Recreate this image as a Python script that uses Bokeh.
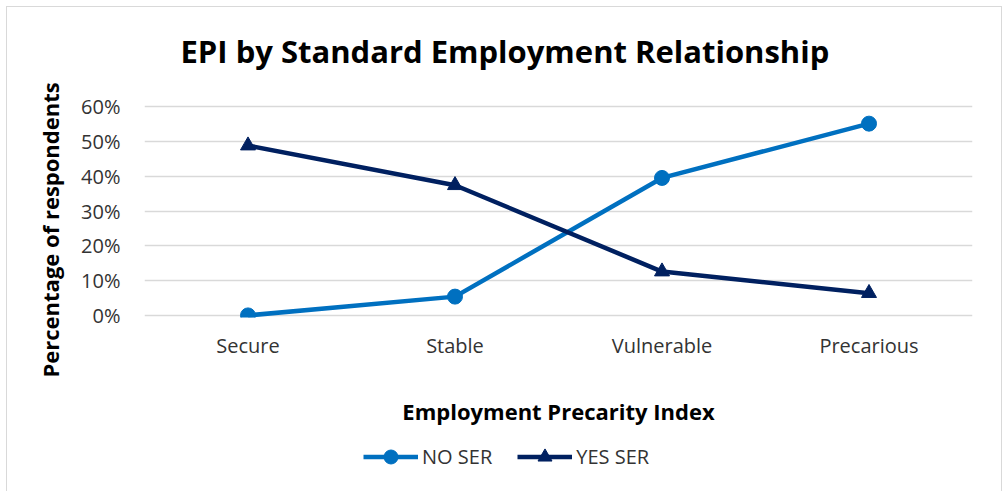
from bokeh.plotting import figure
from bokeh.layouts import column
from bokeh.models import (FactorRange, Range1d, Title, Legend, LegendItem,
                          NumeralTickFormatter, FixedTicker, ColumnDataSource)
from bokeh.embed import file_html
from bokeh.resources import INLINE

categories = ["Secure", "Stable", "Vulnerable", "Precarious"]
no_ser = [0.0, 0.054, 0.395, 0.551]
yes_ser = [0.488, 0.374, 0.126, 0.064]
y_ticks = [0.0, 0.1, 0.2, 0.3, 0.4, 0.5, 0.6]

title_text = "EPI by Standard Employment Relationship"
x_title = "Employment Precarity Index"
y_title = "Percentage of respondents"
series_names = ["NO SER", "YES SER"]

FONT = "Open Sans"
BLUE = "#0070C0"
NAVY = "#002060"
TXT = "#333333"

W, H0, H1, H2 = 994, 72, 351, 61
FL, FR = 137, 965
FT, FB = 25, 238


def blank(fig):
    fig.axis.visible = False
    fig.grid.visible = False
    fig.outline_line_color = None
    fig.background_fill_color = "white"
    fig.border_fill_color = "white"


# title strip
p0 = figure(width=W, height=H0, x_range=Range1d(0, 1), y_range=Range1d(0, 1),
            output_backend="svg", toolbar_location=None,
            min_border_left=FL, min_border_right=W - FR, min_border_top=64,
            min_border_bottom=0)
blank(p0)
p0.title = Title(text=title_text, align="left", text_font=FONT,
                 text_font_size="31px", text_font_style="bold",
                 text_color="black", offset=36, standoff=0)

# main chart
xr = FactorRange(*categories, range_padding=0)
p = figure(width=W, height=H1, x_range=xr,
           y_range=Range1d(-0.006, 0.606), output_backend="svg",
           toolbar_location=None,
           min_border_left=FL, min_border_right=W - FR, min_border_top=FT,
           min_border_bottom=H1 - FB)
p.outline_line_color = None
p.background_fill_color = "white"
p.border_fill_color = "white"

src = ColumnDataSource(dict(cat=categories, no=no_ser, yes=yes_ser))

line_kw = dict(line_width=4.5)
l1 = p.line("cat", "no", source=src, line_color=BLUE, **line_kw)
m1 = p.scatter("cat", "no", source=src, marker="circle", size=15,
               fill_color=BLUE, line_color=BLUE)
l2 = p.line("cat", "yes", source=src, line_color=NAVY, **line_kw)
m2 = p.scatter("cat", "yes", source=src, marker="triangle", size=15,
               fill_color=NAVY, line_color=NAVY)

p.xgrid.grid_line_color = None
p.ygrid.grid_line_color = "#d9d9d9"
p.ygrid.grid_line_width = 1.5

p.yaxis.ticker = FixedTicker(ticks=y_ticks)
p.yaxis.formatter = NumeralTickFormatter(format="0%")
p.yaxis.axis_line_color = None
p.yaxis.major_tick_line_color = None
p.yaxis.minor_tick_line_color = None
p.yaxis.major_label_standoff = 18
p.yaxis.major_label_text_font = FONT
p.yaxis.major_label_text_font_size = "20px"
p.yaxis.major_label_text_color = TXT

p.xaxis.axis_line_color = None
p.xaxis.major_tick_line_color = None
p.xaxis.minor_tick_line_color = None
p.xaxis.major_label_standoff = 8
p.xaxis.major_label_text_font = FONT
p.xaxis.major_label_text_font_size = "20px"
p.xaxis.major_label_text_color = TXT
p.xaxis.axis_label = x_title
p.xaxis.axis_label_text_font = FONT
p.xaxis.axis_label_text_font_size = "22px"
p.xaxis.axis_label_text_font_style = "bold"
p.xaxis.axis_label_text_color = "black"
p.xaxis.axis_label_standoff = 34

p.add_layout(Title(text=y_title, align="left", text_font=FONT,
                   text_font_size="22px", text_font_style="bold",
                   text_color="black", offset=-60, standoff=28), "left")

# legend strip (series drawn out of view, only their legend glyphs show)
p2 = figure(width=W, height=H2, x_range=xr, y_range=Range1d(10, 11),
            output_backend="svg", toolbar_location=None,
            min_border_left=FL, min_border_right=W - FR,
            min_border_top=0, min_border_bottom=0)
blank(p2)
k1 = p2.line("cat", "no", source=src, line_color=BLUE, **line_kw)
k1m = p2.scatter("cat", "no", source=src, marker="circle", size=15,
                 fill_color=BLUE, line_color=BLUE)
k2 = p2.line("cat", "yes", source=src, line_color=NAVY, **line_kw)
k2m = p2.scatter("cat", "yes", source=src, marker="triangle", size=15,
                 fill_color=NAVY, line_color=NAVY)

legend = Legend(items=[LegendItem(label=series_names[0], renderers=[k1, k1m]),
                       LegendItem(label=series_names[1], renderers=[k2, k2m])],
                orientation="horizontal", location=(356 - FL, 17),
                label_text_font=FONT, label_text_font_size="20px",
                label_text_color=TXT, glyph_width=55, glyph_height=35,
                spacing=25, label_standoff=4, border_line_color=None,
                background_fill_alpha=0, margin=0, padding=0)
p2.add_layout(legend, "center")

layout = column(p0, p, p2, spacing=0)
layout.styles = {"margin-left": "7px", "margin-top": "7px",
                 "outline": "1px solid #d9d9d9", "outline-offset": "0px"}

open("out.html", "w").write(file_html(layout, INLINE))
